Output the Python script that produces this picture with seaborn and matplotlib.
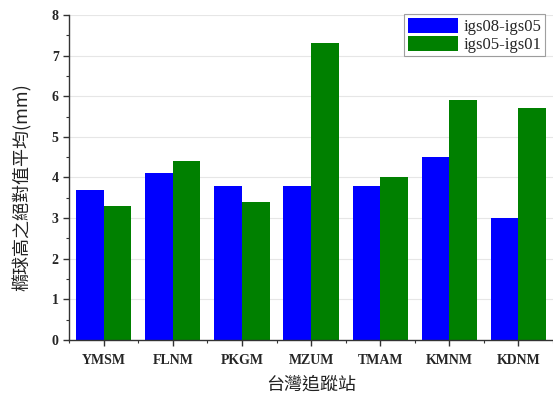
import matplotlib
matplotlib.use("Agg")
import matplotlib.pyplot as plt
from matplotlib.ticker import MultipleLocator, FixedLocator
import seaborn as sns
import pandas as pd

stations = ["YMSM", "FLNM", "PKGM", "MZUM", "TMAM", "KMNM", "KDNM"]
igs08_igs05 = [3.7, 4.1, 3.8, 3.8, 3.8, 4.5, 3.0]
igs05_igs01 = [3.3, 4.4, 3.4, 7.3, 4.0, 5.9, 5.7]
series_names = ["igs08-igs05", "igs05-igs01"]
y_ticks = [0, 1, 2, 3, 4, 5, 6, 7, 8]

df = pd.DataFrame({
    "station": stations * 2,
    "value": igs08_igs05 + igs05_igs01,
    "series": [series_names[0]] * len(stations) + [series_names[1]] * len(stations),
})

sns.set_theme(style="white")
plt.rcParams["font.family"] = ["Liberation Serif", "Noto Sans CJK TC", "DejaVu Sans"]

fig = plt.figure(figsize=(5.53, 3.94), dpi=100)
ax = fig.add_axes([0.125, 0.137, 0.875, 0.825])

sns.barplot(data=df, x="station", y="value", hue="series", order=stations,
            hue_order=series_names, palette=["#0000FF", "#008000"],
            width=0.8, gap=0, saturation=1, linewidth=0, ax=ax, zorder=2)

ax.set_xlim(-0.5, len(stations) - 0.5)
ax.set_ylim(0, 8)
ax.set_yticks(y_ticks)
ax.yaxis.set_minor_locator(MultipleLocator(0.5))
ax.xaxis.set_minor_locator(FixedLocator([i - 0.5 for i in range(len(stations) + 1)]))

for y in y_ticks[1:]:
    ax.axhline(y, color="#e6e6e6", linewidth=0.8, zorder=0)

for side in ["top", "right"]:
    ax.spines[side].set_visible(False)
for side in ["left", "bottom"]:
    ax.spines[side].set_color("#333333")
    ax.spines[side].set_linewidth(1.0)

ax.tick_params(axis="both", which="major", direction="out", length=4, width=1,
               color="#333333", bottom=True, left=True)
ax.tick_params(axis="both", which="minor", direction="out", length=2, width=0.8,
               color="#333333", bottom=True, left=True)
ax.tick_params(axis="x", which="major", pad=6)

for lbl in ax.get_xticklabels() + ax.get_yticklabels():
    lbl.set_fontweight("bold")
    lbl.set_fontsize(10)
    lbl.set_family("Liberation Serif")

ax.set_xlabel("台灣追蹤站", fontsize=13, family=["Noto Sans CJK TC"], labelpad=6,
              color="#222222")
ax.set_ylabel("橢球高之絕對值平均(mm)", fontsize=13, family=["Noto Sans CJK TC"],
              color="#222222")
ax.yaxis.set_label_coords(-0.076, 0.47)

leg = ax.legend(loc="upper right", bbox_to_anchor=(0.99, 1.012), frameon=True,
                fancybox=False, edgecolor="#888888",
                handlelength=3.0, handleheight=1.0, handletextpad=0.35,
                borderpad=0.2, labelspacing=0.05, borderaxespad=0.2,
                prop={"family": "Liberation Serif", "size": 12})
leg.get_frame().set_linewidth(0.8)

fig.savefig("out.png", dpi=100)
